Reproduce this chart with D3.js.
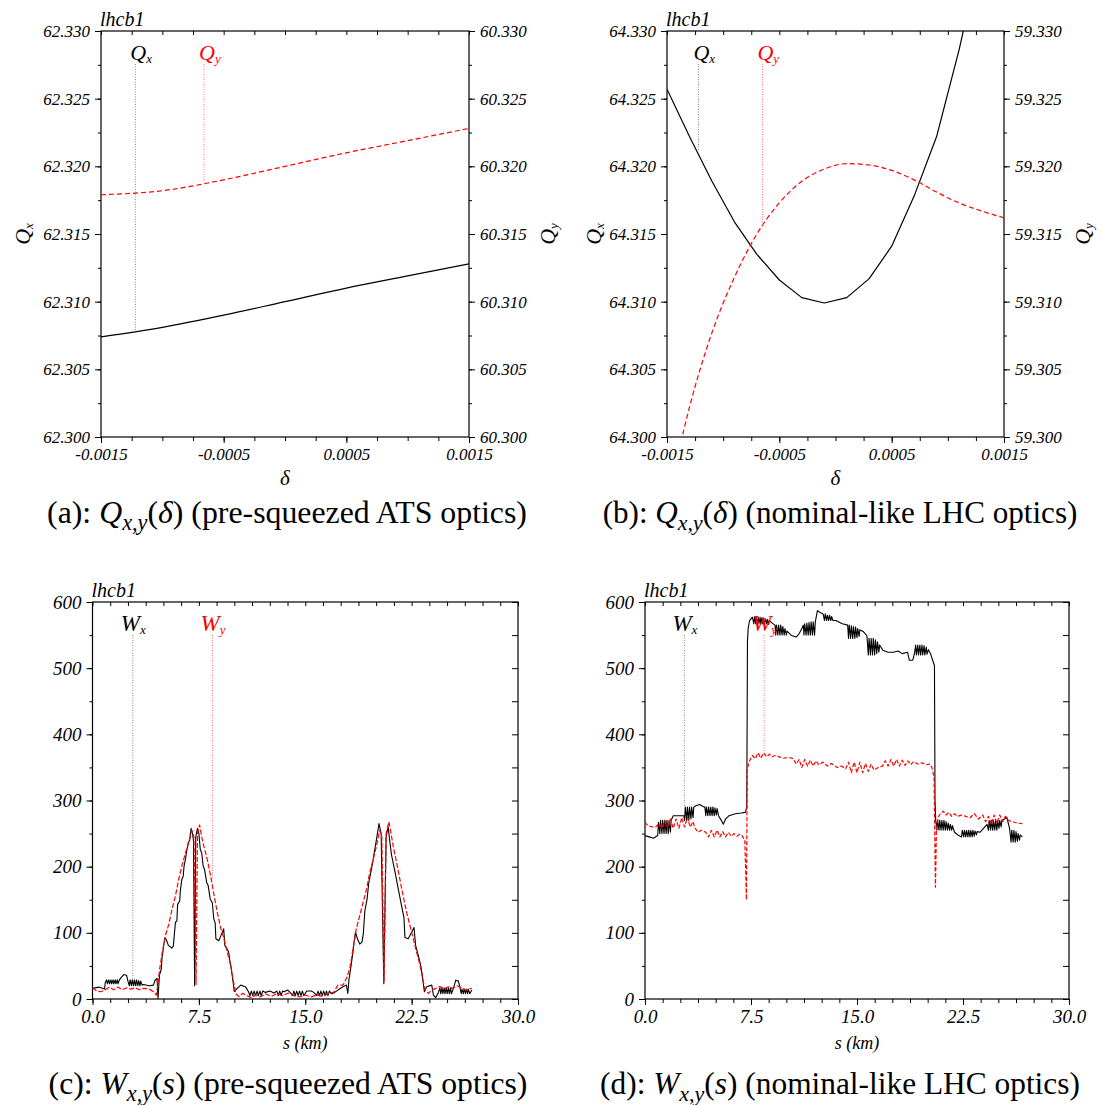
<!DOCTYPE html>
<html><head><meta charset="utf-8">
<script src="https://cdn.jsdelivr.net/npm/d3@7"></script>
<style>
body{margin:0;background:#fff}
svg{display:block}
</style>
</head><body>
<svg id="c" width="1102" height="1105" font-family="Liberation Serif"></svg>
<script>
// ---------------- DATA ----------------
// (a) pre-squeezed ATS optics: tunes vs delta
const deltaA = [-0.0015,-0.001,-0.0005,0,0.0005,0.001,0.0015];
const qxA = [62.3074,62.3081,62.3090,62.3100,62.3110,62.3119,62.3128];
const qyA = [60.3179,60.3182,60.3190,60.3200,60.3210,60.3219,60.3228];
// (b) nominal-like LHC optics
const deltaB = [-0.0015,-0.0013,-0.0011,-0.0009,-0.0007,-0.0005,-0.0003,-0.0001,0.0001,0.0003,0.0005,0.0007,0.0009,0.0011,0.0013,0.0015];
const qxB = [64.3257,64.3222,64.3189,64.3159,64.3135,64.3116,64.3103,64.3099,64.3103,64.3117,64.3141,64.3178,64.3222,64.3286,64.3360,64.3450];
const qyB = [59.2950,59.3022,59.3077,59.3118,59.3150,59.3173,59.3189,59.3198,59.3202,59.3201,59.3197,59.3190,59.3181,59.3173,59.3167,59.3162];

// (c) W functions, pre-squeezed ATS optics  [s (km), W]
const wxC = [[0,16],[0.45,18],[0.85,15],[0.9,25],[1.0,29],[1.05,23],[1.15,29],[1.2,23],[1.3,29],[1.35,23],[1.45,29],[1.5,23],[1.6,29],[1.65,23],[1.75,29],[1.8,23],[1.9,29],
[2.0,32],[2.2,37],[2.4,36],[2.5,27],[2.6,20],[2.65,29],[2.75,20],[2.8,29],[2.9,20],[2.95,29],[3.05,20],[3.1,29],[3.2,20],[3.25,28],[3.35,20],[3.4,27],[3.5,21],
[3.6,22],[4.0,20],[4.3,21],[4.4,28],[4.55,31],[4.62,1],[4.72,36],[4.85,45],[4.9,62],[5.0,78],[5.1,92],[5.2,90],[5.35,81],[5.6,77],[5.7,80],[5.78,100],[5.85,116],
[5.95,118],[6.0,143],[6.15,148],[6.2,165],[6.3,181],[6.4,186],[6.45,200],[6.55,211],[6.65,225],[6.75,236],[6.85,240],[6.95,258],[7.05,250],[7.12,240],[7.2,20],[7.28,245],[7.4,258],[7.5,250],[7.6,226],[7.7,221],[7.8,201],[7.9,196],[8.05,176],[8.15,172],[8.3,151],[8.45,145],[8.55,121],[8.65,115],[8.7,91],[8.9,88],[9.1,98],[9.25,106],[9.33,81],[9.5,75],[9.6,71],[9.7,55],[9.75,51],[9.85,36],[10.0,11],[10.2,16],[10.45,21],[10.8,18],[11.0,11],
[11.1,5],[11.2,12],[11.3,5],[11.4,12],[11.5,5],[11.6,12],[11.7,5],[11.8,12],[11.9,5],[12.0,12],[12.2,10],[12.5,12],[12.8,9],[13.0,12],[13.1,5],[13.2,12],[13.3,5],[13.4,12],[13.5,11],[13.77,13.5],[14.0,8.5],[14.1,5],[14.2,12],[14.3,5],[14.4,12],[14.5,5],[14.6,12],[14.7,5],[14.8,12],[14.9,5],[15.1,12],[15.42,12],[15.6,10],[15.8,5],[15.9,12],[16.0,5],[16.1,12],[16.2,5],[16.3,12],[16.4,5],[16.5,12],[16.6,5],[16.7,12],[16.85,8],[17.08,10],[17.3,13.5],[17.66,18.5],[17.9,21],[18.0,8.5],[18.09,31],[18.2,46],[18.33,66],[18.44,86],[18.54,101],[18.68,91],[18.84,83],[19.0,86],[19.1,100],[19.2,133],[19.36,151],[19.48,176],[19.62,191],[19.79,211],[19.9,226],[20.02,241],[20.2,265],[20.35,250],[20.54,23],[20.7,245],[20.85,260],[20.95,240],[21.08,218],[21.32,193],[21.56,166],[21.79,141],[21.96,123],[22.03,93],[22.26,91],[22.5,101],[22.67,108],[22.78,81],[22.97,66],[23.14,51],[23.25,36],[23.4,11],[23.56,18.5],[23.92,21],[24.03,6],[24.2,2],[24.39,10],
[24.5,17],[24.55,8],[24.65,17],[24.7,8],[24.8,17],[24.85,8],[24.95,17],[25.0,8],[25.1,17],[25.15,8],[25.25,17],[25.3,8],[25.45,16],[25.61,28.5],[25.8,27],[25.92,16],
[26.0,8],[26.05,15],[26.15,8],[26.2,15],[26.3,8],[26.35,15],[26.45,8],[26.5,15],[26.6,8],[26.75,13.5]];
const wyC = [[0,17],[0.3,12],[0.6,11],[0.9,14],[1.2,18],[1.5,14],[1.8,18],[2.1,14],[2.4,17],[2.7,15],[3.0,17],[3.3,14],[3.6,16],[4.0,15],[4.3,11],[4.5,6],[4.6,20],[4.72,43],[4.9,68],[5.14,96],[5.38,113],[5.61,136],[5.85,156],[6.08,181],[6.32,203],[6.56,221],[6.8,238],[7.0,255],[7.15,245],[7.3,22],[7.4,250],[7.55,263],[7.7,245],[7.85,231],[8.09,211],[8.33,186],[8.56,158],[8.8,131],[9.03,108],[9.27,91],[9.5,71],[9.74,51],[9.9,31],[10.1,8],[10.33,3.5],[10.57,8.5],[10.9,5],[11.2,2],[11.5,6],[11.8,3],[12.2,8],[12.6,4],[13.0,8],[13.4,5],[13.8,9],[14.2,5],[14.6,3],[15.0,6],[15.4,3],[15.8,6],[16.2,4],[16.6,8],[17.0,10],[17.3,21],[17.66,21],[17.9,31],[18.14,46],[18.37,76],[18.6,106],[18.84,126],[19.08,146],[19.32,166],[19.55,191],[19.79,211],[20.02,231],[20.25,255],[20.4,245],[20.55,25],[20.7,250],[20.9,268],[21.05,250],[21.2,231],[21.44,206],[21.67,181],[21.9,156],[22.15,131],[22.38,111],[22.62,91],[22.85,71],[23.09,51],[23.28,31],[23.44,13.5],[23.68,8.5],[23.92,13.5],[24.2,16],[24.5,19],[24.8,15],[25.1,19],[25.4,16],[25.7,20],[26.0,17],[26.3,14],[26.75,16]];

// (d) W functions, nominal-like LHC optics
const wxD = [[0,247],[0.3,245],[0.6,243],[0.9,247],[0.95,267],[1.05,250],[1.1,270],[1.2,250],[1.25,270],[1.35,250],[1.4,270],[1.5,250],[1.55,270],[1.65,250],[1.7,270],[1.8,252],[1.85,270],
[2.0,277],[2.4,277],[2.75,277],[2.8,270],[2.85,290],[2.95,270],[3.0,290],[3.1,270],[3.15,290],[3.25,272],[3.3,290],[3.4,274],[3.45,290],
[3.6,292],[3.87,294],[4.1,291],[4.24,290],[4.3,277],[4.35,290],[4.45,277],[4.5,290],[4.6,277],[4.65,290],[4.75,277],[4.8,290],[4.9,277],[4.95,289],[5.05,278],[5.1,288],
[5.2,277],[5.4,270],[5.54,264],[5.7,272],[5.95,277],[6.4,280],[6.8,281],[7.1,282],[7.2,290],[7.25,540],[7.3,560],[7.4,572],[7.6,577],
[7.7,567],[7.75,577],[7.85,567],[7.9,577],[8.0,567],[8.05,577],[8.15,567],[8.2,577],[8.3,567],[8.35,576],[8.45,567],[8.5,575],[8.6,567],[8.65,574],[8.75,566],[8.8,572],
[9.0,568],[9.2,565],[9.25,550],[9.3,565],[9.4,550],[9.45,565],[9.55,550],[9.6,565],[9.7,550],[9.75,563],[9.85,550],[9.9,560],[10.0,550],[10.05,556],
[10.35,549.5],[10.7,547],[10.9,552],[11.1,560],[11.2,565],[11.25,550],[11.3,567],[11.4,550],[11.45,568],[11.55,550],[11.6,569],[11.7,550],[11.75,570],[11.85,550],[11.9,570],[12.0,550],[12.05,570],
[12.2,587],[12.4,584],[12.6,582],[12.7,572],[12.75,582],[12.85,572],[12.9,580],[13.0,572],[13.05,580],[13.15,572],[13.2,578],[13.3,572],
[13.5,572],[13.96,567],[14.34,565],[14.4,545],[14.45,565],[14.55,545],[14.6,564],[14.7,545],[14.75,563],[14.85,545],[14.9,562],[15.0,546],[15.05,560],[15.15,548],[15.2,558],
[15.46,555],[15.7,549],[15.8,520],[15.85,545],[15.95,520],[16.0,545],[16.1,520],[16.15,545],[16.25,520],[16.3,543],[16.4,522],[16.45,540],[16.55,524],[16.6,535],
[16.83,527],[17.2,524],[17.58,524],[17.9,526],[18.2,522],[18.58,524],[18.7,512],[18.95,512],[19.08,524],
[19.15,535],[19.2,520],[19.3,535],[19.35,520],[19.45,535],[19.5,520],[19.6,535],[19.65,520],[19.75,534],[19.8,520],[19.9,532],[19.95,521],[20.05,528],
[20.2,522],[20.4,509],[20.48,504],[20.52,300],[20.57,270],
[20.65,255],[20.7,270],[20.8,255],[20.85,270],[20.95,255],[21.0,270],[21.1,255],[21.15,270],[21.25,255],[21.3,268],[21.4,255],[21.45,266],[21.55,255],[21.6,264],[21.7,255],[21.75,262],
[21.9,252],[22.2,247],[22.4,245],[22.45,255],[22.55,245],[22.6,255],[22.7,245],[22.75,255],[22.85,245],[22.9,255],[23.0,245],[23.05,255],[23.15,245],[23.2,255],[23.3,246],[23.35,254],[23.45,248],[23.5,253],
[23.7,252],[24.2,264],[24.3,255],[24.35,270],[24.45,255],[24.5,270],[24.6,255],[24.65,270],[24.75,255],[24.8,270],[24.9,255],[24.95,270],[25.05,258],[25.1,270],[25.2,260],[25.25,270],
[25.45,272],[25.6,275],[25.8,257],[25.9,237],[25.95,255],[26.05,237],[26.1,255],[26.2,237],[26.25,253],[26.35,238],[26.4,250],[26.5,240],[26.55,248],[26.7,245]];
const wyD = [[0,267],[0.2,262],[0.5,260],[0.75,260],[1.0,265],[1.2,258],[1.4,270],[1.6,258],[1.8,272],[2.0,258],[2.2,272],[2.4,258],[2.6,274],[2.8,260],[3.0,275],[3.2,260],[3.4,268],[3.5,260],[3.74,252],[4.0,255],[4.3,252],[4.5,245],[4.7,255],[4.9,245],[5.1,255],[5.3,245],[5.5,253],[5.7,245],[5.9,252],[6.1,246],[6.3,250],[6.5,246],[6.7,249],[6.86,247],[7.06,240],[7.18,150],[7.23,345],[7.35,358],[7.6,368],[7.8,363],[8.0,372],[8.2,364],[8.4,372],[8.6,366],[8.8,370],[9.0,366],[9.2,368],[9.5,366],[9.8,364],[10.2,365],[10.5,363],[10.7,355],[10.9,362],[11.1,350],[11.3,362],[11.5,352],[11.7,361],[11.9,352],[12.1,360],[12.3,354],[12.6,358],[12.9,352],[13.2,356],[13.6,350],[13.9,352],[14.2,348],[14.4,358],[14.6,342],[14.8,358],[15.0,342],[15.2,358],[15.4,342],[15.6,356],[15.8,344],[16.0,355],[16.2,346],[16.5,350],[16.8,352],[17.0,360],[17.2,352],[17.4,362],[17.6,352],[17.8,362],[18.0,352],[18.2,361],[18.4,353],[18.6,360],[18.8,354],[19.0,359],[19.3,355],[19.6,357],[19.9,354],[20.15,355],[20.3,350],[20.45,335],[20.55,169],[20.62,258],[20.75,275],[20.9,280],[21.1,284],[21.3,278],[21.5,282],[21.7,276],[21.9,280],[22.1,276],[22.4,278],[22.7,276],[23.0,274],[23.3,280],[23.6,272],[23.9,278],[24.1,268],[24.3,276],[24.5,264],[24.7,278],[24.9,266],[25.1,278],[25.3,268],[25.5,276],[25.7,270],[26.0,268],[26.3,266],[26.7,265]];

// tick labels
const deltaTickLabels = [-0.0015,-0.0005,0.0005,0.0015];
const sTickLabels = [0,7.5,15,22.5,30];
const wTickLabels = [0,100,200,300,400,500,600];
const qxATicks = [62.300,62.305,62.310,62.315,62.320,62.325,62.330];
const qyATicks = [60.300,60.305,60.310,60.315,60.320,60.325,60.330];
const qxBTicks = [64.300,64.305,64.310,64.315,64.320,64.325,64.330];
const qyBTicks = [59.300,59.305,59.310,59.315,59.320,59.325,59.330];

// marker labels (position along x, end value on curve)
const markersA = [{t:"Q",sub:"x",at:-0.00122,to:62.3078,axis:"L",color:"#000",line:"#888"},
                  {t:"Q",sub:"y",at:-0.00066,to:60.3188,axis:"R",color:"#f00",line:"#f77"}];
const markersB = [{t:"Q",sub:"x",at:-0.00122,to:64.3211,axis:"L",color:"#000",line:"#888"},
                  {t:"Q",sub:"y",at:-0.00065,to:59.3155,axis:"R",color:"#f00",line:"#f77"}];
const markersC = [{t:"W",sub:"x",at:2.84,to:29,axis:"L",color:"#000",line:"#888"},
                  {t:"W",sub:"y",at:8.46,to:180,axis:"L",color:"#f00",line:"#f77"}];
const markersD = [{t:"W",sub:"x",at:2.79,to:290,axis:"L",color:"#000",line:"#888"},
                  {t:"W",sub:"y",at:8.43,to:372,axis:"L",color:"#f00",line:"#f77"}];

// ---------------- DRAWING ----------------
const FONT = "Liberation Serif";
const svg = d3.select("#c");
const defs = svg.append("defs");

function ticks(g, axisGen, transform, values, size, fmt, fs) {
  const a = axisGen.tickValues(values).tickSizeInner(size).tickSizeOuter(0).tickPadding(5)
                   .tickFormat(fmt || (() => ""));
  const gg = g.append("g").attr("transform", transform).call(a);
  gg.attr("font-family", FONT).attr("font-size", fs);
  gg.select(".domain").remove();
  gg.selectAll("line").attr("stroke", "#000").attr("stroke-width", 1);
  gg.selectAll("text").attr("font-family", FONT).attr("font-style", "italic")
    .attr("font-size", fs).attr("fill", "#000");
  return gg;
}

function txt(sel) { return sel.append("text").attr("font-family", FONT); }

function panel(o) {
  const x = d3.scaleLinear().domain(o.xDomain).range([o.x0, o.x1]);
  const yL = d3.scaleLinear().domain(o.yDomain).range([o.y1, o.y0]);
  const yR = o.yRDomain ? d3.scaleLinear().domain(o.yRDomain).range([o.y1, o.y0]) : yL;
  const g = svg.append("g");
  const cid = "clip-" + o.id;
  defs.append("clipPath").attr("id", cid).append("rect")
    .attr("x", o.x0).attr("y", o.y0).attr("width", o.x1 - o.x0).attr("height", o.y1 - o.y0);

  ticks(g, d3.axisBottom(x), `translate(0,${o.y1})`, o.xMinor, 4, null, o.fs);
  ticks(g, d3.axisBottom(x), `translate(0,${o.y1})`, o.xMajor, 6, o.xFmt, o.fs);
  ticks(g, d3.axisTop(x), `translate(0,${o.y0})`, o.xMinor, -4, null, o.fs);
  ticks(g, d3.axisLeft(yL), `translate(${o.x0},0)`, o.yMinor, 3, null, o.fs);
  ticks(g, d3.axisLeft(yL), `translate(${o.x0},0)`, o.yMajor, 6, o.yFmt, o.fs);
  if (o.yRDomain) {
    ticks(g, d3.axisRight(yR), `translate(${o.x1},0)`, o.yRMinor, 3, null, o.fs);
    ticks(g, d3.axisRight(yR), `translate(${o.x1},0)`, o.yRMajor, 6, o.yFmt, o.fs);
  } else {
    ticks(g, d3.axisRight(yL), `translate(${o.x1},0)`, o.yMinor, -6, null, o.fs);
  }
  g.append("rect").attr("x", o.x0).attr("y", o.y0).attr("width", o.x1 - o.x0).attr("height", o.y1 - o.y0)
    .attr("fill", "none").attr("stroke", "#000").attr("stroke-width", 1.2);

  o.series.forEach(s => {
    const sc = s.axis === "R" ? yR : yL;
    g.append("path").datum(s.data).attr("clip-path", `url(#${cid})`)
      .attr("fill", "none").attr("stroke", s.color).attr("stroke-width", s.w)
      .attr("stroke-dasharray", s.dash || null).attr("stroke-linejoin", "round")
      .attr("d", d3.line().x(d => x(d[0])).y(d => sc(d[1])).curve(s.curve || d3.curveLinear));
  });

  o.markers.forEach(m => {
    const sc = m.axis === "R" ? yR : yL;
    const mx = x(m.at);
    g.append("line").attr("x1", mx).attr("x2", mx).attr("y1", o.y0 + 33).attr("y2", sc(m.to))
      .attr("stroke", m.line).attr("stroke-width", 1).attr("stroke-dasharray", "1,1.5");
    const t = txt(g).attr("x", mx - o.mOff).attr("y", o.y0 + 29)
      .attr("font-style", "italic").attr("font-size", o.mfs).attr("fill", m.color);
    t.append("tspan").text(m.t);
    t.append("tspan").attr("font-size", 13).attr("dy", 3).text(m.sub);
  });

  // lhcb1
  txt(g).attr("x", o.x0 - 1).attr("y", o.y0 - 5).attr("font-style", "italic")
    .attr("font-size", 20).text("lhcb1");

  // x title
  txt(g).attr("x", (o.x0 + o.x1) / 2).attr("y", o.xtY).attr("text-anchor", "middle")
    .attr("font-style", "italic").attr("font-size", o.xtFs).text(o.xTitle);

  // y titles
  o.yTitles.forEach(yt => {
    const t = txt(g).attr("transform", `translate(${yt.x + 7},${(o.y0 + o.y1) / 2}) rotate(-90)`)
      .attr("text-anchor", "middle").attr("font-style", "italic").attr("font-size", 22);
    t.append("tspan").text(yt.t);
    t.append("tspan").attr("font-size", 13).attr("dy", 3).text(yt.sub);
  });

  // caption
  const cap = txt(svg).attr("x", o.capX).attr("y", o.capY).attr("text-anchor", "middle")
    .attr("font-size", 25);
  o.caption.forEach(p => {
    const ts = cap.append("tspan").text(p.s);
    if (p.i) ts.attr("font-style", "italic");
    if (p.sub) ts.attr("font-size", "70%").attr("dy", "0.3em");
    if (p.up) ts.attr("dy", "-0.21em");
  });
  const L = cap.node().getComputedTextLength();
  cap.attr("font-size", 25 * o.capW / L);
}

const fmt3 = d => d.toFixed(3);
const fmt4 = d => d.toFixed(4);
const fmt1 = d => d.toFixed(1);
const fmt0 = d => d.toFixed(0);
const deltaMinor = d3.range(0, 13).map(i => -0.0015 + i * 0.00025);
const sMinor = d3.range(0, 25).map(i => i * 1.25);
const wMinor = d3.range(0, 13).map(i => i * 50);
const qMinor = base => d3.range(0, 13).map(i => base + i * 0.0025);

panel({id:"a", x0:101, x1:469, y0:31, y1:437, xDomain:[-0.0015,0.0015], yDomain:[62.300,62.330], yRDomain:[60.300,60.330],
  xMinor:deltaMinor, xMajor:deltaTickLabels, xFmt:fmt4, yMinor:qMinor(62.300), yMajor:qxATicks, yRMinor:qMinor(60.300), yRMajor:qyATicks, yFmt:fmt3, fs:17,
  series:[{data:deltaA.map((d,i)=>[d,qxA[i]]), axis:"L", color:"#000", w:1.2, curve:d3.curveMonotoneX},
          {data:deltaA.map((d,i)=>[d,qyA[i]]), axis:"R", color:"#f00", w:1.2, dash:"5,3", curve:d3.curveMonotoneX}],
  markers:markersA, mOff:5, mfs:22,
  xTitle:"δ", xtY:485, xtFs:21,
  yTitles:[{x:23,t:"Q",sub:"x"},{x:548,t:"Q",sub:"y"}],
  capX:287, capY:523, capW:480,
  caption:[{s:"(a): "},{s:"Q",i:1},{s:"x,y",i:1,sub:1},{s:"(",up:1},{s:"δ",i:1},{s:") (pre-squeezed ATS optics)"}]});

panel({id:"b", x0:667, x1:1004, y0:31, y1:437, xDomain:[-0.0015,0.0015], yDomain:[64.300,64.330], yRDomain:[59.300,59.330],
  xMinor:deltaMinor, xMajor:deltaTickLabels, xFmt:fmt4, yMinor:qMinor(64.300), yMajor:qxBTicks, yRMinor:qMinor(59.300), yRMajor:qyBTicks, yFmt:fmt3, fs:17,
  series:[{data:deltaB.map((d,i)=>[d,qxB[i]]), axis:"L", color:"#000", w:1.2},
          {data:deltaB.map((d,i)=>[d,qyB[i]]), axis:"R", color:"#f00", w:1.2, dash:"5,3", curve:d3.curveMonotoneX}],
  markers:markersB, mOff:5, mfs:22,
  xTitle:"δ", xtY:485, xtFs:21,
  yTitles:[{x:594,t:"Q",sub:"x"},{x:1083,t:"Q",sub:"y"}],
  capX:840, capY:523, capW:475,
  caption:[{s:"(b): "},{s:"Q",i:1},{s:"x,y",i:1,sub:1},{s:"(",up:1},{s:"δ",i:1},{s:") (nominal-like LHC optics)"}]});

panel({id:"c", x0:92.5, x1:518, y0:602, y1:999, xDomain:[0,30], yDomain:[0,600],
  xMinor:sMinor, xMajor:sTickLabels, xFmt:fmt1, yMinor:wMinor, yMajor:wTickLabels, yFmt:fmt0, fs:19,
  series:[{data:wxC, color:"#000", w:1.1},
          {data:wyC, color:"#f00", w:1.2, dash:"5,2"}],
  markers:markersC, mOff:12, mfs:23,
  xTitle:"s (km)", xtY:1049, xtFs:18,
  yTitles:[],
  capX:288, capY:1094, capW:479,
  caption:[{s:"(c): "},{s:"W",i:1},{s:"x,y",i:1,sub:1},{s:"(",up:1},{s:"s",i:1},{s:") (pre-squeezed ATS optics)"}]});

panel({id:"d", x0:645, x1:1069, y0:602, y1:999, xDomain:[0,30], yDomain:[0,600],
  xMinor:sMinor, xMajor:sTickLabels, xFmt:fmt1, yMinor:wMinor, yMajor:wTickLabels, yFmt:fmt0, fs:19,
  series:[{data:wxD, color:"#000", w:1.1},
          {data:wyD, color:"#f00", w:1.2, dash:"4,2"}],
  markers:markersD, mOff:12, mfs:23,
  xTitle:"s (km)", xtY:1049, xtFs:18,
  yTitles:[],
  capX:840, capY:1094, capW:480,
  caption:[{s:"(d): "},{s:"W",i:1},{s:"x,y",i:1,sub:1},{s:"(",up:1},{s:"s",i:1},{s:") (nominal-like LHC optics)"}]});
</script>
</body></html>
